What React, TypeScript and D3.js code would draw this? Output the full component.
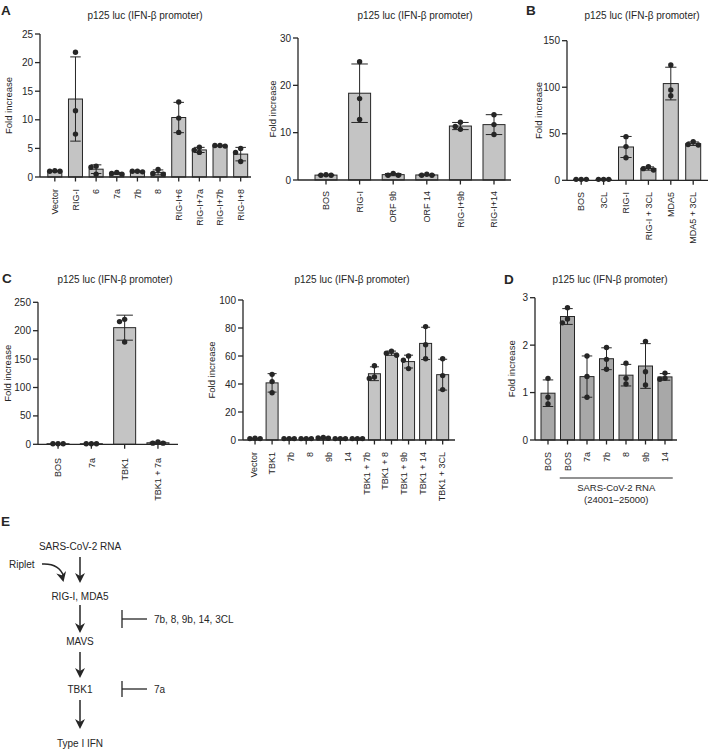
import React from "react";
import * as d3 from "d3";

const FONT = "'Liberation Sans', Arial, Helvetica, sans-serif";
const INK = "#262626";
const TITLE = "p125 luc (IFN-β promoter)";
const YLABEL = "Fold increase";

// A, left: RIG-I with ORFs
const aLabels = ["Vector", "RIG-I", "6", "7a", "7b", "8", "RIG-I+6", "RIG-I+7a", "RIG-I+7b", "RIG-I+8"];
const aValues = [
  [1.1, 1.0, 1.0], [21.8, 11.6, 7.5], [1.9, 1.7, 0.5], [0.8, 0.6, 0.5], [1.0, 1.0, 0.9],
  [1.3, 0.6, 0.5], [13.1, 10.3, 7.8], [5.2, 4.7, 4.3], [5.5, 5.5, 5.4], [5.0, 4.3, 2.7],
];
const aTicks = [0, 5, 10, 15, 20, 25];

// A, right: ORF 9b / ORF 14
const a2Labels = ["BOS", "RIG-I", "ORF 9b", "ORF 14", "RIG-I+9b", "RIG-I+14"];
const a2Values = [
  [1.1, 1.0, 1.0], [25.0, 17.2, 12.8], [1.4, 1.0, 1.0], [1.2, 1.0, 1.0], [12.2, 10.7, 11.3], [13.8, 11.7, 9.6],
];
const a2Ticks = [0, 10, 20, 30];

// B: 3CL
const bLabels = ["BOS", "3CL", "RIG-I", "RIG-I + 3CL", "MDA5", "MDA5 + 3CL"];
const bValues = [
  [1, 1, 1], [1, 1, 1], [46.9, 36.2, 24.3], [14.5, 12.5, 11], [123.9, 90.9, 97], [41.5, 38.5, 38],
];
const bTicks = [0, 50, 100, 150];

// C, left: TBK1 + 7a
const cLabels = ["BOS", "7a", "TBK1", "TBK1 + 7a"];
const cValues = [[1, 1, 1], [1, 1, 1], [220, 216, 180], [4, 2, 2]];
const cTicks = [0, 50, 100, 150, 200, 250];

// C, right: TBK1 with ORFs (12 bars, 11 labels in the source figure)
const c2Labels = ["Vector", "TBK1", "7b", "8", "9b", "14", "3CL", "TBK1 + 7b", "TBK1 + 8", "TBK1 + 9b", "TBK1 + 14", "TBK1 + 3CL"];
const c2TickLabels = ["Vector", "TBK1", "7b", "8", "9b", "14", "TBK1 + 7b", "TBK1 + 8", "TBK1 + 9b", "TBK1 + 14", "TBK1 + 3CL"];
const c2Values = [
  [1.2, 1, 1], [46.9, 41.7, 33.8], [1, 1, 1], [1, 1, 1], [1.9, 1.5, 1.2], [1, 1, 1], [1, 1, 1],
  [53, 45, 44], [63.5, 62, 60.5], [60, 57, 51], [81, 68, 58], [58, 46, 36],
];
const c2Ticks = [0, 20, 40, 60, 80, 100];

// D: SARS-CoV-2 RNA fragment
const dLabels = ["BOS", "BOS", "7a", "7b", "8", "9b", "14"];
const dValues = [
  [1.3, 0.9, 0.76], [2.79, 2.55, 2.47], [1.77, 1.34, 0.9], [1.95, 1.7, 1.49],
  [1.62, 1.3, 1.18], [2.08, 1.44, 1.16], [1.41, 1.3, 1.28],
];
const dTicks = [0, 1, 2, 3];
const dGroup = ["SARS-CoV-2 RNA", "(24001–25000)"];

// E: pathway
const pathNodes = ["SARS-CoV-2 RNA", "RIG-I, MDA5", "MAVS", "TBK1", "Type I IFN"];
const inhibitors = ["7b, 8, 9b, 14, 3CL", "7a"];

type Layout = {
  ax: number; end: number; y0: number; yTop: number; b0: number; b1: number;
  barW: number; yLab: number; titleX: number; titleY: number; labelY: number;
  letter?: string; lx?: number; ly?: number;
};

function placeDots(ys: number[], r: number): [number, number][] {
  const placed: [number, number][] = [];
  ys.forEach((y) => {
    const offs = [0, -1, 1, -2, 2];
    let done = false;
    for (const o of offs) {
      const dx = o * r * 1.9;
      if (placed.every(([px, py]) => Math.hypot(px - dx, py - y) >= r * 1.8)) {
        placed.push([dx, y]);
        done = true;
        break;
      }
    }
    if (!done) placed.push([0, y]);
  });
  return placed;
}

function BarPanel(props: {
  labels: string[]; values: number[][]; ticks: number[]; L: Layout; fill: string; tickLabels?: string[];
}) {
  const { labels, values, ticks, L, fill } = props;
  const idx = values.map((_, i) => i);
  const x = d3.scaleBand<number>().domain(idx).range([L.b0, L.b1]);
  const y = d3.scaleLinear().domain([0, ticks[ticks.length - 1]]).range([L.y0, L.yTop]);
  const cx = (i: number) => (x(i) as number) + x.bandwidth() / 2;
  const names = props.tickLabels ?? labels;
  const lx = d3
    .scalePoint<number>()
    .domain(names.map((_, i) => i))
    .range(props.tickLabels ? [cx(0) - 1.5, cx(idx.length - 1) - 1] : [cx(0), cx(idx.length - 1)]);
  const r = 2.7;
  const cap = L.barW * 0.75;

  return (
    <g fontFamily={FONT} fill={INK}>
      {L.letter && (
        <text x={L.lx} y={L.ly} fontSize={13.5} fontWeight="bold">{L.letter}</text>
      )}
      <text x={L.titleX} y={L.titleY} fontSize={10} textAnchor="middle">{TITLE}</text>
      <text transform={`translate(${L.yLab},${(L.y0 + L.yTop) / 2}) rotate(-90)`} fontSize={9.5} textAnchor="middle" dy="0.35em">
        {YLABEL}
      </text>

      {values.map((v, i) => {
        const m = d3.mean(v) as number;
        return (
          <rect key={"b" + i} x={cx(i) - L.barW / 2} y={y(m)} width={L.barW} height={L.y0 - y(m)}
            fill={fill} stroke={INK} strokeWidth={1} />
        );
      })}

      {values.map((v, i) => {
        const m = d3.mean(v) as number;
        const sd = d3.deviation(v) ?? 0;
        if (sd <= 0) return null;
        const lo = y(Math.max(0, m - sd));
        const hi = y(m + sd);
        return (
          <g key={"e" + i} stroke={INK} strokeWidth={1}>
            <line x1={cx(i)} x2={cx(i)} y1={lo} y2={hi} />
            <line x1={cx(i) - cap / 2} x2={cx(i) + cap / 2} y1={hi} y2={hi} />
            <line x1={cx(i) - cap / 2} x2={cx(i) + cap / 2} y1={lo} y2={lo} />
          </g>
        );
      })}

      {values.map((v, i) =>
        placeDots(v.map((d) => y(d)), r).map(([dx, py], j) => (
          <circle key={"p" + i + "-" + j} cx={cx(i) + dx} cy={py} r={r} fill={INK} />
        ))
      )}

      <g stroke={INK} strokeWidth={1.3} fill="none">
        <line x1={L.ax} x2={L.ax} y1={L.y0} y2={L.yTop} />
        <line x1={L.ax} x2={L.end} y1={L.y0} y2={L.y0} />
        {ticks.map((t) => (
          <line key={"yt" + t} x1={L.ax - 5} x2={L.ax} y1={y(t)} y2={y(t)} />
        ))}
        {idx.map((i) => (
          <line key={"xt" + i} x1={cx(i)} x2={cx(i)} y1={L.y0} y2={L.y0 + 4.5} />
        ))}
      </g>
      {ticks.map((t) => (
        <text key={"yl" + t} x={L.ax - 7} y={y(t)} dy="0.35em" fontSize={10} textAnchor="end">{t}</text>
      ))}
      {names.map((n, i) => (
        <text key={"xl" + i} transform={`translate(${lx(i)},${L.labelY}) rotate(-90)`} fontSize={9}
          textAnchor="end" dy="0.35em">{n}</text>
      ))}
    </g>
  );
}

const LA1: Layout = { ax: 40, end: 251, y0: 177, yTop: 34, b0: 44.5, b1: 251, barW: 14, yLab: 9, titleX: 145, titleY: 19, labelY: 189, letter: "A", lx: 1, ly: 15 };
const LA2: Layout = { ax: 298, end: 511, y0: 180, yTop: 38, b0: 309.2, b1: 510.8, barW: 22, yLab: 273, titleX: 415, titleY: 19, labelY: 191 };
const LB: Layout = { ax: 567, end: 708, y0: 180.3, yTop: 40.7, b0: 570, b1: 704.4, barW: 15, yLab: 539, titleX: 642, titleY: 19, labelY: 192, letter: "B", lx: 526, ly: 15 };
const LC1: Layout = { ax: 38, end: 178, y0: 444.3, yTop: 302.3, b0: 41.4, b1: 174.6, barW: 22, yLab: 8, titleX: 115, titleY: 283, labelY: 458, letter: "C", lx: 2, ly: 283 };
const LC2: Layout = { ax: 243, end: 455, y0: 440, yTop: 300, b0: 246.5, b1: 451.2, barW: 12, yLab: 212, titleX: 352, titleY: 283, labelY: 452 };
const LD: Layout = { ax: 535, end: 677, y0: 440, yTop: 297.7, b0: 538.25, b1: 674.75, barW: 14, yLab: 512, titleX: 610, titleY: 283, labelY: 452, letter: "D", lx: 504, ly: 284 };

function arrowHead(x: number, tipY: number) {
  return `M${x},${tipY} L${x - 5},${tipY - 10} L${x},${tipY - 7} L${x + 5},${tipY - 10} Z`;
}

function Pathway() {
  const nodeY = [546, 596, 641, 689, 743];
  const arrows: [number, number][] = [[557, 583], [605, 633], [652, 678], [700, 729]];
  const inhY = [619, 689];
  const inhH = [18, 16];
  const px = 80;
  // curved Riplet arrow, tip direction from control point
  const s = [42, 564], c = [59, 563], e = [63.5, 582];
  const ang = (Math.atan2(e[1] - c[1], e[0] - c[0]) * 180) / Math.PI - 90;
  return (
    <g fontFamily={FONT} fill={INK} fontSize={10}>
      <text x={1} y={526} fontSize={13.5} fontWeight="bold">E</text>
      {pathNodes.map((n, i) => (
        <text key={n} x={px} y={nodeY[i]} dy="0.35em" textAnchor="middle">{n}</text>
      ))}
      <text x={9} y={564} dy="0.35em">Riplet</text>
      {arrows.map(([a, b], i) => (
        <g key={"ar" + i}>
          <line x1={px} x2={px} y1={a} y2={b - 6} stroke={INK} strokeWidth={1.5} />
          <path d={arrowHead(px, b)} fill={INK} />
        </g>
      ))}
      <path d={`M${s[0]},${s[1]} Q${c[0]},${c[1]} ${e[0]},${e[1] - 6}`} fill="none" stroke={INK} strokeWidth={1.5} />
      <path d={arrowHead(0, 0)} transform={`translate(${e[0]},${e[1]}) rotate(${ang})`} fill={INK} />
      {inhibitors.map((t, i) => (
        <g key={t}>
          <line x1={122} x2={122} y1={inhY[i] - inhH[i] / 2} y2={inhY[i] + inhH[i] / 2} stroke={INK} strokeWidth={1.3} />
          <line x1={122} x2={147} y1={inhY[i]} y2={inhY[i]} stroke={INK} strokeWidth={1.3} />
          <text x={154} y={inhY[i]} dy="0.35em">{t}</text>
        </g>
      ))}
    </g>
  );
}

export default function App() {
  const dx = d3.scaleBand<number>().domain(dValues.map((_, i) => i)).range([LD.b0, LD.b1]);
  const g0 = (dx(1) as number) + 2;
  const g1 = (dx(6) as number) + dx.bandwidth() - 2;
  return (
    <svg width={711} height={751} style={{ position: "absolute", left: 0, top: 0, background: "#fff" }}>
      <rect width={711} height={751} fill="#fff" />
      <BarPanel labels={aLabels} values={aValues} ticks={aTicks} L={LA1} fill="#c4c4c4" />
      <BarPanel labels={a2Labels} values={a2Values} ticks={a2Ticks} L={LA2} fill="#c4c4c4" />
      <BarPanel labels={bLabels} values={bValues} ticks={bTicks} L={LB} fill="#c4c4c4" />
      <BarPanel labels={cLabels} values={cValues} ticks={cTicks} L={LC1} fill="#c4c4c4" />
      <BarPanel labels={c2Labels} values={c2Values} ticks={c2Ticks} L={LC2} fill="#c4c4c4" tickLabels={c2TickLabels} />
      <BarPanel labels={dLabels} values={dValues} ticks={dTicks} L={LD} fill="#a8a8a8" />
      <g fontFamily={FONT} fill={INK} fontSize={9.5}>
        <line x1={g0} x2={g1} y1={478} y2={478} stroke={INK} strokeWidth={1.2} />
        {dGroup.map((t, i) => (
          <text key={t} x={(g0 + g1) / 2} y={491 + i * 12} textAnchor="middle">{t}</text>
        ))}
      </g>
      <Pathway />
    </svg>
  );
}
